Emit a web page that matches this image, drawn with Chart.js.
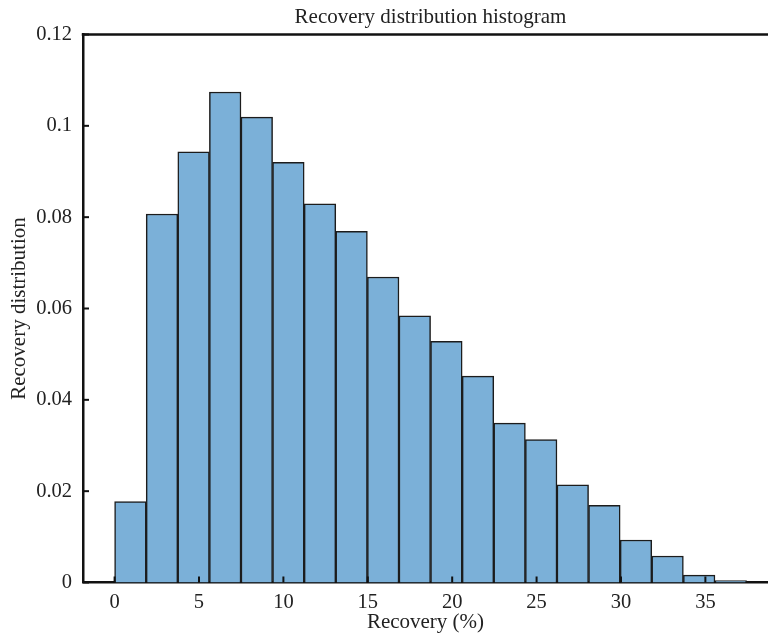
<!DOCTYPE html>
<html>
<head>
<meta charset="utf-8">
<script src="https://cdn.jsdelivr.net/npm/chart.js@4.4.0/dist/chart.umd.min.js"></script>
<style>
  html, body { margin: 0; padding: 0; background: #fff; }
  #wrap { width: 768px; height: 635px; }
</style>
</head>
<body>
<div id="wrap"><canvas id="histChart"></canvas></div>
<script>
// histogram bins (left edges) and heights
const binEdges = [0, 1.872, 3.744, 5.616, 7.488, 9.36, 11.232, 13.104, 14.976, 16.848,
  18.72, 20.592, 22.464, 24.336, 26.208, 28.08, 29.952, 31.824, 33.696, 35.568, 37.44];
const recoveryDist = [0.0177, 0.0807, 0.0943, 0.1074, 0.1019, 0.0920, 0.0829, 0.0769, 0.0669, 0.0584,
  0.0528, 0.0452, 0.0349, 0.0313, 0.0214, 0.0169, 0.0093, 0.0058, 0.0016, 0.0004];
const xTicks = [0, 5, 10, 15, 20, 25, 30, 35];
const yTicks = [0, 0.02, 0.04, 0.06, 0.08, 0.1, 0.12];

const serif = '"Liberation Serif", "DejaVu Serif", serif';
const binWidth = binEdges[1] - binEdges[0];

const points = recoveryDist.map((v, i) => ({ x: (binEdges[i] + binEdges[i + 1]) / 2, y: v }));

// top frame line, inward tick marks and the title
const frameAndTicks = {
  id: 'frameAndTicks',
  afterDraw(chart) {
    const { ctx, chartArea } = chart;
    const xs = chart.scales.x, ys = chart.scales.y;
    ctx.save();
    ctx.strokeStyle = '#111';
    ctx.lineWidth = 2.5;
    ctx.beginPath();
    ctx.moveTo(chartArea.left - 1.25, chartArea.top);
    ctx.lineTo(chartArea.right, chartArea.top);
    ctx.stroke();

    ctx.lineWidth = 2;
    xTicks.forEach((t) => {
      const px = xs.getPixelForValue(t);
      ctx.beginPath();
      ctx.moveTo(px, chartArea.bottom);
      ctx.lineTo(px, chartArea.bottom - 6);
      ctx.stroke();
    });
    yTicks.forEach((t) => {
      const py = ys.getPixelForValue(t);
      ctx.beginPath();
      ctx.moveTo(chartArea.left, py);
      ctx.lineTo(chartArea.left + 6, py);
      ctx.stroke();
    });

    // title is centred on the full (cropped) frame, ~10px past the canvas edge
    ctx.fillStyle = '#222';
    ctx.font = '21px ' + serif;
    ctx.textAlign = 'center';
    ctx.textBaseline = 'middle';
    ctx.fillText('Recovery distribution histogram', (chartArea.left + chartArea.right + 10) / 2, 17);
    ctx.restore();
  },
};

new Chart(document.getElementById('histChart'), {
  type: 'bar',
  data: {
    datasets: [
      {
        label: 'Recovery distribution',
        data: points,
        backgroundColor: '#7bb0d8',
        borderColor: '#1c1c1c',
        borderWidth: 1.5,
        borderSkipped: 'start',
        barPercentage: 1,
        categoryPercentage: 1,
      },
    ],
  },
  options: {
    responsive: true,
    maintainAspectRatio: false,
    animation: false,
    layout: { padding: { top: 34.5, right: 0, left: 0, bottom: 0 } },
    plugins: {
      legend: { display: false },
      tooltip: { enabled: false },
      title: { display: false },
    },
    scales: {
      x: {
        type: 'linear',
        offset: false,
        min: -binWidth,
        max: 38.71,
        afterBuildTicks: (scale) => {
          scale.ticks = xTicks.map((v) => ({ value: v }));
        },
        afterFit: (scale) => {
          scale.height = 52.5;
        },
        grid: { display: false, offset: false },
        border: { display: true, width: 2.5, color: '#111' },
        ticks: {
          padding: 0,
          color: '#222',
          font: { family: serif, size: 20.5 },
          maxRotation: 0,
          callback: (v) => String(v),
        },
        title: {
          display: true,
          text: 'Recovery (%)',
          color: '#222',
          font: { family: serif, size: 21 },
          padding: { top: 0, bottom: 0 },
        },
      },
      y: {
        min: 0,
        max: 0.12,
        afterBuildTicks: (scale) => {
          scale.ticks = yTicks.map((v) => ({ value: v }));
        },
        afterFit: (scale) => {
          scale.width = 83;
        },
        grid: { display: false },
        border: { display: true, width: 2.5, color: '#111' },
        ticks: {
          padding: 3,
          color: '#222',
          font: { family: serif, size: 20.5 },
          callback: (v) => String(v),
        },
        title: {
          display: true,
          text: 'Recovery distribution',
          color: '#222',
          font: { family: serif, size: 21 },
          padding: { top: 7, bottom: 0 },
        },
      },
    },
  },
  plugins: [frameAndTicks],
});
</script>
</body>
</html>
